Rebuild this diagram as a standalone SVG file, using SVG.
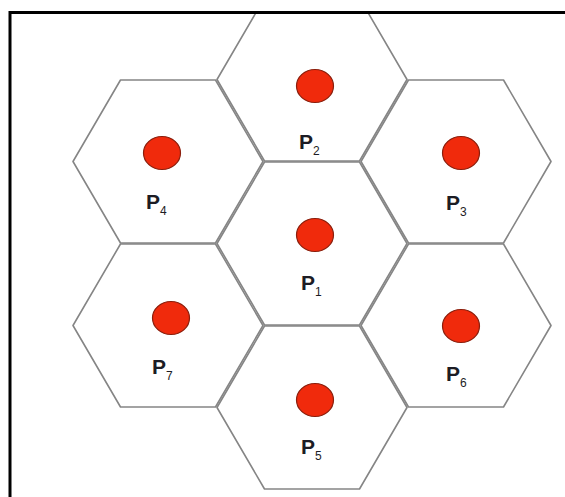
<svg xmlns="http://www.w3.org/2000/svg" width="565" height="497" viewBox="0 0 565 497">
  <defs>
    <style>
      .hex { fill: #ffffff; stroke: #858585; stroke-width: 1.6; stroke-linejoin: round; }
      .dot { fill: #f02a0c; stroke: #8a1e0c; stroke-width: 1.2; }
      .lbl { font-family: "Liberation Sans", Arial, sans-serif; font-size: 21px; font-weight: bold; fill: #1c1c24; }
      .sub { font-size: 12px; font-weight: normal; }
    </style>
    <clipPath id="inside">
      <rect x="11" y="14" width="554" height="483"/>
    </clipPath>
    <polygon id="hexshape" points="-95,0 -47.5,-81.5 47.5,-81.5 95,0 47.5,81.5 -47.5,81.5"/>
  </defs>
  <rect x="0" y="0" width="565" height="497" fill="#ffffff"/>
  <g clip-path="url(#inside)">
    <g id="P1">
      <use href="#hexshape" class="hex" transform="translate(312,243.5)"/>
      <ellipse class="dot" cx="315" cy="235" rx="18.5" ry="16.5"/>
      <text class="lbl" x="301" y="290">P<tspan class="sub" dy="6">1</tspan></text>
    </g>
    <g id="P2">
      <use href="#hexshape" class="hex" transform="translate(312,79.5)"/>
      <ellipse class="dot" cx="315" cy="86" rx="18.5" ry="16.5"/>
      <text class="lbl" x="299" y="149">P<tspan class="sub" dy="6">2</tspan></text>
    </g>
    <g id="P4">
      <use href="#hexshape" class="hex" transform="translate(168,161.5)"/>
      <ellipse class="dot" cx="162" cy="153" rx="18.5" ry="16.5"/>
      <text class="lbl" x="146" y="209">P<tspan class="sub" dy="6">4</tspan></text>
    </g>
    <g id="P3">
      <use href="#hexshape" class="hex" transform="translate(456,161.5)"/>
      <ellipse class="dot" cx="461" cy="153" rx="18.5" ry="16.5"/>
      <text class="lbl" x="446" y="210">P<tspan class="sub" dy="6">3</tspan></text>
    </g>
    <g id="P7">
      <use href="#hexshape" class="hex" transform="translate(168,325.5)"/>
      <ellipse class="dot" cx="171" cy="318" rx="18.5" ry="16.5"/>
      <text class="lbl" x="152" y="374">P<tspan class="sub" dy="6">7</tspan></text>
    </g>
    <g id="P6">
      <use href="#hexshape" class="hex" transform="translate(456,325.5)"/>
      <ellipse class="dot" cx="461" cy="326" rx="18.5" ry="16.5"/>
      <text class="lbl" x="446" y="381">P<tspan class="sub" dy="6">6</tspan></text>
    </g>
    <g id="P5">
      <use href="#hexshape" class="hex" transform="translate(312,407.5)"/>
      <ellipse class="dot" cx="315" cy="400" rx="18.5" ry="16.5"/>
      <text class="lbl" x="301" y="454">P<tspan class="sub" dy="6">5</tspan></text>
    </g>
  </g>
  <g id="connectors"></g>
  <path d="M10,497 V12.5 H565" fill="none" stroke="#000000" stroke-width="3"/>
</svg>
